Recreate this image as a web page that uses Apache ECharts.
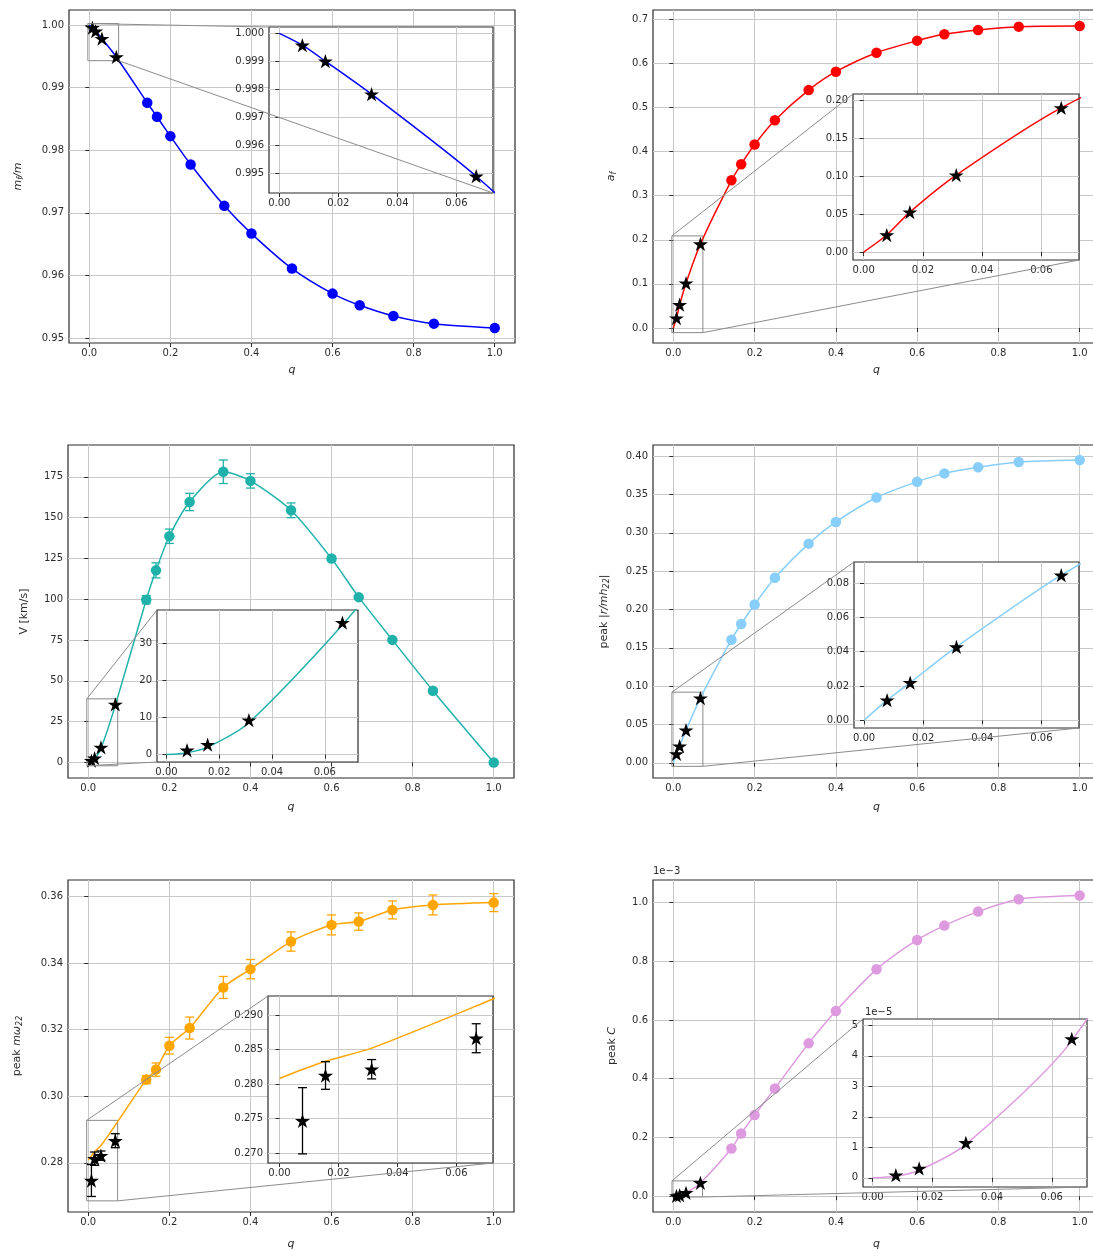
<!DOCTYPE html>
<html>
<head>
<meta charset="utf-8">
<script src="https://cdn.jsdelivr.net/npm/echarts@6/dist/echarts.min.js"></script>
<style>
  html, body { margin: 0; padding: 0; background: #fff; overflow: hidden; }
  #c { width: 1110px; height: 1251px; }
</style>
</head>
<body>
<div id="c"></div>
<script>
// ---------- data ----------
const qCircle = [0.143, 0.167, 0.2, 0.25, 0.333, 0.4, 0.5, 0.6, 0.667, 0.75, 0.85, 1.0];
const qStar = [0.0078, 0.0156, 0.03125, 0.0667];
const qCurve = [0, 0.0078, 0.0156, 0.03125, 0.0667, 0.143, 0.167, 0.2, 0.25, 0.333, 0.4, 0.5, 0.6, 0.667, 0.75, 0.85, 1.0];

// m_f / m
const mfCircle = [0.98758, 0.98534, 0.98225, 0.97772, 0.97111, 0.96668, 0.96109, 0.95709, 0.95522, 0.95352, 0.95229, 0.9516];
const mfStar = [0.99958, 0.99901, 0.99783, 0.99490];
const mfCurve = [1.0000, 0.99958, 0.99901, 0.99783, 0.99490, 0.98758, 0.98534, 0.98225, 0.97772, 0.97111, 0.96668, 0.96109, 0.95709, 0.95522, 0.95352, 0.95229, 0.9516];

// a_f
const afCircle = [0.3348, 0.3712, 0.4159, 0.4712, 0.5394, 0.5811, 0.6242, 0.6515, 0.6659, 0.6758, 0.6833, 0.6848];
const afStar = [0.0225, 0.0528, 0.1017, 0.1905];
const afCurve = [0, 0.0225, 0.0528, 0.1017, 0.1905, 0.3348, 0.3712, 0.4159, 0.4712, 0.5394, 0.5811, 0.6242, 0.6515, 0.6659, 0.6758, 0.6833, 0.6848];

// V [km/s]
const vCircle = [99.7, 117.7, 138.6, 159.6, 178.1, 172.5, 154.5, 124.9, 101.3, 75.1, 44.0, 0];
const vCircleErr = [2.5, 4.6, 4.4, 5.3, 7.2, 4.4, 4.5, 1.5, 1, 1, 1, 0];
const vStar = [1.17, 2.7, 9.3, 35.6];
const vCurve = [0, 0.5, 2.0, 8.6, 35.0, 99.7, 117.7, 138.6, 159.6, 178.1, 172.5, 154.5, 124.9, 101.3, 75.1, 44.0, 0];

// peak |r/m h22|
const hCircle = [0.1606, 0.1811, 0.2064, 0.2413, 0.2858, 0.3141, 0.3460, 0.3665, 0.3774, 0.3853, 0.3922, 0.3949];
const hStar = [0.0117, 0.0219, 0.0427, 0.0845];
const hCurve = [0, 0.0117, 0.0219, 0.0427, 0.0845, 0.1606, 0.1811, 0.2064, 0.2413, 0.2858, 0.3141, 0.3460, 0.3665, 0.3774, 0.3853, 0.3922, 0.3949];

// peak m omega22
const wCircle = [0.3050, 0.3080, 0.3152, 0.3205, 0.3327, 0.3382, 0.3465, 0.3515, 0.3525, 0.3560, 0.3575, 0.3582];
const wCircleErr = [0.0012, 0.002, 0.0025, 0.0033, 0.0033, 0.0029, 0.0029, 0.003, 0.0026, 0.0027, 0.003, 0.0027];
const wStar = [0.27467, 0.28123, 0.28214, 0.28663];
const wStarErr = [0.0048, 0.002, 0.0014, 0.0021];
const wCurve = [0.2808, 0.2821, 0.2833, 0.2852, 0.2913, 0.3050, 0.3080, 0.3152, 0.3205, 0.3327, 0.3382, 0.3465, 0.3515, 0.3525, 0.3560, 0.3575, 0.3582];

// peak C
const cCircle = [0.1625e-3, 0.2136e-3, 0.2761e-3, 0.3670e-3, 0.5205e-3, 0.6307e-3, 0.7727e-3, 0.8727e-3, 0.9216e-3, 0.9693e-3, 1.0114e-3, 1.0239e-3];
const cStar = [0.088e-5, 0.31e-5, 1.15e-5, 4.56e-5];
const cCurve = [0, 0.05e-5, 0.25e-5, 1.1e-5, 4.5e-5, 0.1625e-3, 0.2136e-3, 0.2761e-3, 0.3670e-3, 0.5205e-3, 0.6307e-3, 0.7727e-3, 0.8727e-3, 0.9216e-3, 0.9693e-3, 1.0114e-3, 1.0239e-3];

// tick values
const xTicks = [0, 0.2, 0.4, 0.6, 0.8, 1.0];
const xInsetTicks = [0, 0.02, 0.04, 0.06];
const mfTicks = [0.95, 0.96, 0.97, 0.98, 0.99, 1.00];
const mfInsetTicks = [0.995, 0.996, 0.997, 0.998, 0.999, 1.000];
const afTicks = [0, 0.1, 0.2, 0.3, 0.4, 0.5, 0.6, 0.7];
const afInsetTicks = [0, 0.05, 0.10, 0.15, 0.20];
const vTicks = [0, 25, 50, 75, 100, 125, 150, 175];
const vInsetTicks = [0, 10, 20, 30];
const hTicks = [0, 0.05, 0.10, 0.15, 0.20, 0.25, 0.30, 0.35, 0.40];
const hInsetTicks = [0, 0.02, 0.04, 0.06, 0.08];
const wTicks = [0.28, 0.30, 0.32, 0.34, 0.36];
const wInsetTicks = [0.270, 0.275, 0.280, 0.285, 0.290];
const cTicks = [0, 0.2e-3, 0.4e-3, 0.6e-3, 0.8e-3, 1.0e-3];
const cInsetTicks = [0, 1e-5, 2e-5, 3e-5, 4e-5, 5e-5];

// ---------- layout / styling ----------
const FONT = 'DejaVu Sans';
const INK = '#2b2b2b';
const GRIDC = '#c9c9c9';
const STAR = 'path://M0,-1 L0.2245,-0.309 L0.951,-0.309 L0.363,0.118 L0.588,0.809 L0,0.382 L-0.588,0.809 L-0.363,0.118 L-0.951,-0.309 L-0.2245,-0.309 Z';
const fix = d => v => v.toFixed(d);

const panels = [
  { main: [69, 10, 446, 333], inset: [269, 27, 224, 166], ylim: [0.9492, 1.0024], yTicks: mfTicks, yFmt: fix(2),
    ixlim: [-0.0035, 0.0724], iylim: [0.9943, 1.00023], iyTicks: mfInsetTicks, iyFmt: fix(3),
    color: '#0000ff', curve: mfCurve, circ: mfCircle, star: mfStar,
    yName: '{i|m}{s|f}{i|/m}', yGap: 44, xGap: 22, links: [['t', 'l', 't', 'l'], ['b', 'r', 'b', 'r']] },
  { main: [653, 10, 447, 333], inset: [853, 94, 226, 166], ylim: [-0.034, 0.721], yTicks: afTicks, yFmt: fix(1),
    ixlim: [-0.0036, 0.0727], iylim: [-0.0105, 0.2088], iyTicks: afInsetTicks, iyFmt: fix(2),
    color: '#ff0000', curve: afCurve, circ: afCircle, star: afStar,
    yName: '{i|a}{s|f}', yGap: 35, xGap: 22, links: [['t', 'l', 't', 'l'], ['b', 'r', 'b', 'r']] },
  { main: [68, 445, 446, 333], inset: [157, 610, 201, 152], ylim: [-9.5, 194.5], yTicks: vTicks, yFmt: fix(0),
    ixlim: [-0.0036, 0.0726], iylim: [-2, 39], iyTicks: vInsetTicks, iyFmt: fix(0),
    color: '#20b2aa', curve: vCurve, circ: vCircle, circErr: vCircleErr, star: vStar,
    yName: 'V [km/s]', yGap: 38, xGap: 24, links: [['t', 'l', 't', 'l'], ['b', 'l', 'b', 'l']] },
  { main: [653, 445, 447, 333], inset: [854, 562, 225, 166], ylim: [-0.0197, 0.4144], yTicks: hTicks, yFmt: fix(2),
    ixlim: [-0.0034, 0.0727], iylim: [-0.0045, 0.0922], iyTicks: hInsetTicks, iyFmt: fix(2),
    color: '#87cefa', curve: hCurve, circ: hCircle, star: hStar,
    yName: 'peak {i||r/mh}{s|22}{i||}', yGap: 42, xGap: 24, links: [['t', 'l', 't', 'l'], ['b', 'r', 'b', 'r']] },
  { main: [68, 880, 446, 333], inset: [268, 996, 225, 167], ylim: [0.2652, 0.3650], yTicks: wTicks, yFmt: fix(2),
    ixlim: [-0.0039, 0.0724], iylim: [0.26855, 0.29275], iyTicks: wInsetTicks, iyFmt: fix(3),
    color: '#ffa500', curve: wCurve, circ: wCircle, circErr: wCircleErr, star: wStar, starErr: wStarErr,
    yName: 'peak {i|mω}{s|22}', yGap: 44, xGap: 27, links: [['t', 'l', 't', 'l'], ['b', 'r', 'b', 'r']] },
  { main: [653, 880, 447, 333], inset: [863, 1019, 224, 168], ylim: [-0.054e-3, 1.077e-3], yTicks: cTicks, yFmt: v => (v * 1e3).toFixed(1),
    ixlim: [-0.0032, 0.0718], iylim: [-0.3e-5, 5.21e-5], iyTicks: cInsetTicks, iyFmt: v => (v * 1e5).toFixed(0),
    color: '#dd9ade', curve: cCurve, circ: cCircle, star: cStar,
    yName: 'peak {i|C}', yGap: 35, xGap: 27, links: [['t', 'l', 't', 'l'], ['b', 'r', 'b', 'r']],
    offMain: '1e\u22123', offInset: '1e\u22125' }
];

const zip = (xs, ys) => xs.map((x, i) => [x, ys[i]]);
const zip3 = (xs, ys, es) => xs.map((x, i) => [x, ys[i], es[i]]);

const nameRich = {
  i: { fontStyle: 'italic', fontSize: 11, fontFamily: FONT, color: INK },
  s: { fontStyle: 'italic', fontSize: 8, fontFamily: FONT, color: INK, padding: [6, 0, 0, 0] }
};

function valueAxis(gi, lim, ticks, fmt, z, extra) {
  return Object.assign({
    type: 'value', gridIndex: gi, min: lim[0], max: lim[1], z: z,
    axisLine: { show: false },
    axisTick: { show: true, length: 4, customValues: ticks, lineStyle: { color: INK, width: 1 } },
    axisLabel: { customValues: ticks, formatter: fmt, fontSize: 10, color: INK, fontFamily: FONT, margin: 5 },
    splitLine: { show: true, lineStyle: { color: GRIDC, width: 1 } }
  }, extra || {});
}

function errRender(color) {
  return function (params, api) {
    const x = api.value(0), y = api.value(1), e = api.value(2);
    const lo = api.coord([x, y - e]), hi = api.coord([x, y + e]);
    const cap = 4.5;
    const st = { stroke: color, lineWidth: 1.3 };
    return { type: 'group', children: [
      { type: 'line', shape: { x1: lo[0], y1: lo[1], x2: hi[0], y2: hi[1] }, style: st },
      { type: 'line', shape: { x1: lo[0] - cap, y1: lo[1], x2: lo[0] + cap, y2: lo[1] }, style: st },
      { type: 'line', shape: { x1: hi[0] - cap, y1: hi[1], x2: hi[0] + cap, y2: hi[1] }, style: st }
    ] };
  };
}

const grid = [], xAxis = [], yAxis = [], series = [];

panels.forEach((p, k) => {
  const gm = 2 * k, gi = 2 * k + 1;
  grid.push({ left: p.main[0], top: p.main[1], width: p.main[2], height: p.main[3],
    show: true, borderColor: INK, borderWidth: 1.2, backgroundColor: 'rgba(0,0,0,0)', z: 0 });
  grid.push({ left: p.inset[0], top: p.inset[1], width: p.inset[2], height: p.inset[3],
    show: true, borderColor: INK, borderWidth: 1.2, backgroundColor: '#fff', z: 10 });

  xAxis.push(valueAxis(gm, [-0.05, 1.05], xTicks, fix(1), 0, {
    name: 'q', nameLocation: 'middle', nameGap: p.xGap,
    nameTextStyle: { fontStyle: 'italic', fontSize: 11, fontFamily: FONT, color: INK } }));
  xAxis.push(valueAxis(gi, p.ixlim, xInsetTicks, fix(2), 11));
  yAxis.push(valueAxis(gm, p.ylim, p.yTicks, p.yFmt, 0, {
    name: p.yName, nameLocation: 'middle', nameGap: p.yGap,
    nameTextStyle: { fontSize: 11, fontFamily: FONT, color: INK, rich: nameRich } }));
  yAxis.push(valueAxis(gi, p.iylim, p.iyTicks, p.iyFmt, 11));

  [[gm, 2], [gi, 12]].forEach(([g, z], j) => {
    const line = {
      type: 'line', xAxisIndex: g, yAxisIndex: g, z: z, silent: true,
      data: zip(qCurve, p.curve), showSymbol: false, smooth: 0.25,
      lineStyle: { color: p.color, width: 1.5 }, clip: true
    };
    if (j === 0) {
      line.markArea = {
        silent: true, label: { show: false },
        itemStyle: { color: 'rgba(0,0,0,0)', borderColor: '#888', borderWidth: 1 },
        data: [[{ coord: [p.ixlim[0], p.iylim[0]] }, { coord: [p.ixlim[1], p.iylim[1]] }]]
      };
    }
    series.push(line);
    if (p.circErr) {
      series.push({ type: 'custom', xAxisIndex: g, yAxisIndex: g, z: z + 1, silent: true, clip: true,
        renderItem: errRender(p.color), data: zip3(qCircle, p.circ, p.circErr) });
    }
    series.push({ type: 'scatter', xAxisIndex: g, yAxisIndex: g, z: z + 2, silent: true, clip: true,
      data: zip(qCircle, p.circ), symbol: 'circle', symbolSize: 10.5,
      itemStyle: { color: p.color, opacity: 1 } });
    if (p.starErr) {
      series.push({ type: 'custom', xAxisIndex: g, yAxisIndex: g, z: z + 3, silent: true, clip: true,
        renderItem: errRender('#000'), data: zip3(qStar, p.star, p.starErr) });
    }
    series.push({ type: 'scatter', xAxisIndex: g, yAxisIndex: g, z: z + 4, silent: true, clip: true,
      data: zip(qStar, p.star), symbol: STAR, symbolSize: 15, symbolKeepAspect: true,
      itemStyle: { color: '#000', opacity: 1 } });
  });
});

const chart = echarts.init(document.getElementById('c'), null, { renderer: 'canvas' });
chart.setOption({ animation: false, backgroundColor: '#fff', grid, xAxis, yAxis, series });

// connector lines between zoom box and inset, plus offset texts
const graphic = [];
panels.forEach((p, k) => {
  const gm = 2 * k, gi = 2 * k + 1;
  p.links.forEach(l => {
    const a = chart.convertToPixel({ gridIndex: gm }, [l[1] === 'l' ? p.ixlim[0] : p.ixlim[1], l[0] === 't' ? p.iylim[1] : p.iylim[0]]);
    const b = chart.convertToPixel({ gridIndex: gi }, [l[3] === 'l' ? p.ixlim[0] : p.ixlim[1], l[2] === 't' ? p.iylim[1] : p.iylim[0]]);
    graphic.push({ type: 'line', z: 30, silent: true,
      shape: { x1: a[0], y1: a[1], x2: b[0], y2: b[1] },
      style: { stroke: '#8c8c8c', lineWidth: 1 } });
  });
  if (p.offMain) {
    graphic.push({ type: 'text', z: 30, silent: true, x: p.main[0], y: p.main[1] - 4,
      style: { text: p.offMain, fontSize: 10, fontFamily: FONT, fill: INK, verticalAlign: 'bottom', align: 'left' } });
  }
  if (p.offInset) {
    graphic.push({ type: 'text', z: 30, silent: true, x: p.inset[0] + 2, y: p.inset[1] - 2,
      style: { text: p.offInset, fontSize: 10, fontFamily: FONT, fill: INK, verticalAlign: 'bottom', align: 'left' } });
  }
});
chart.setOption({ graphic });
</script>
</body>
</html>
